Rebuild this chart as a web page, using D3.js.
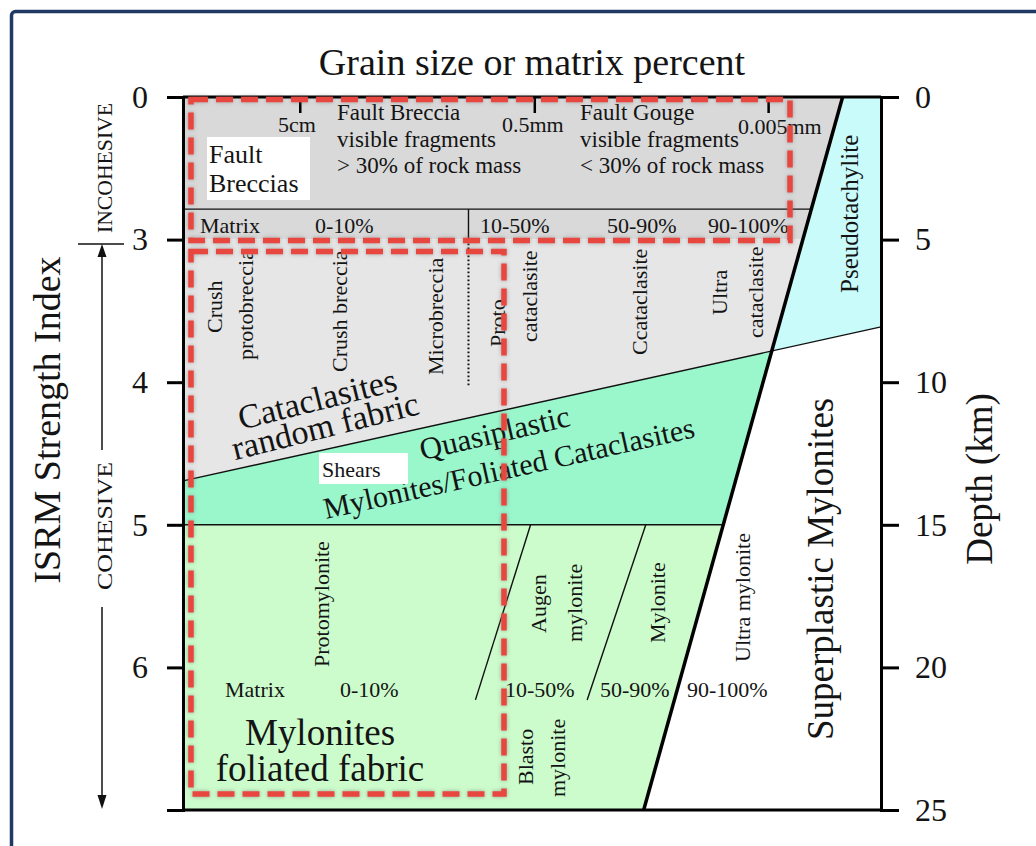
<!DOCTYPE html>
<html>
<head>
<meta charset="utf-8">
<script src="https://d3js.org/d3.v7.min.js"></script>
<style>
    body { margin: 0; background: #fff; }
    svg text { font-family: "Times New Roman", "Liberation Serif", serif; fill: #141414; }
</style>
</head>
<body>
<div id="chart"></div>
<script>
// axes
var depthTicks = [0, 5, 10, 15, 20, 25];
var isrmTicks = [0, 3, 4, 5, 6, 7];
var isrmDepth = [[0, 0], [3, 5], [7, 25]];        // [ISRM index, depth km]

// boundaries: x = place on grain size / matrix scale (0-100), y = depth km
var faultLine = [[94.5, 0], [66.0, 25]];           // thick line
var frictionLine = [[0, 13.46], [100, 8.06]];      // base of cataclasites / pseudotachylite
var matrixRowDepth = 3.93;
var cohesiveDepth = 5;                             // ISRM 3
var myloniteDepth = 15;                            // ISRM 5
var matrixSplit = [40.9, 3.93, 5, 10.17];          // x, solid from, solid to, dotted to
var myloniteSplits = [[[49.8, 15], [41.9, 21.14]], [[66.3, 15], [57.9, 21.14]]];
var grainTicks = [16.8, 50.4, 83.9];
var grainLabels = ["5cm", "0.5mm", "0.005mm"];

// names
var matrixClasses = ["Matrix", "0-10%", "10-50%", "50-90%", "90-100%"];
var cataclasiteNames = ["Crush", "protobreccia", "Crush breccia", "Microbreccia", "Proto", "cataclasite", "Ccataclasite", "Ultra", "cataclasite"];
var myloniteNames = ["Protomylonite", "Augen", "mylonite", "Mylonite", "Ultra mylonite", "Blasto", "mylonite"];

var W = 1036, H = 846;
var svg = d3.select("#chart").append("svg").attr("width", W).attr("height", H);

var defs = svg.append("defs");
defs.append("filter").attr("id", "glow")
        .attr("x", "-10%").attr("y", "-10%").attr("width", "120%").attr("height", "120%")
        .append("feDropShadow")
        .attr("dx", 0).attr("dy", 0)
        .attr("stdDeviation", 2.2)
        .attr("flood-color", "#666")
        .attr("flood-opacity", 0.55);

// frame
svg.append("rect")
        .attr("x", 11.5).attr("y", 11.5)
        .attr("width", 1040).attr("height", 860)
        .attr("rx", 4)
        .attr("fill", "#fff")
        .attr("stroke", "#1f3864")
        .attr("stroke-width", 3.5);

var x = d3.scaleLinear().domain([0, 100]).range([183, 881]);
var y = d3.scaleLinear().domain([0, 25]).range([97, 810]);
var yIsrm = d3.scaleLinear()
        .domain(isrmDepth.map(function (d) { return d[0]; }))
        .range(isrmDepth.map(function (d) { return y(d[1]); }));

function along(line, depth) {
    var t = (depth - line[0][1]) / (line[1][1] - line[0][1]);
    return line[0][0] + t * (line[1][0] - line[0][0]);
}
function frictionAt(v) {
    var t = (v - frictionLine[0][0]) / (frictionLine[1][0] - frictionLine[0][0]);
    return frictionLine[0][1] + t * (frictionLine[1][1] - frictionLine[0][1]);
}
// where the thick line meets the friction line
var pd = 0;
for (var i = 0; i < 60; i++) {
    pd = frictionAt(along(faultLine, pd));
}
var P = [along(faultLine, pd), pd];
var F0 = faultLine[0], F1 = faultLine[1];
var F5 = [along(faultLine, cohesiveDepth), cohesiveDepth];
var F15 = [along(faultLine, myloniteDepth), myloniteDepth];

var regions = [
    {pts: [[0, 0], F0, F5, [0, cohesiveDepth]], fill: "#d9d9d9"},
    {pts: [[0, cohesiveDepth], F5, P, frictionLine[0]], fill: "#e6e6e6"},
    {pts: [F0, [100, 0], frictionLine[1], P], fill: "#c9fbfb"},
    {pts: [frictionLine[0], P, F15, [0, myloniteDepth]], fill: "#9af7cc"},
    {pts: [[0, myloniteDepth], F15, F1, [0, 25]], fill: "#ccfccc"}
];

var line = d3.line()
        .x(function (d) { return x(d[0]); })
        .y(function (d) { return y(d[1]); });

var g = svg.append("g");
g.selectAll("path.region")
        .data(regions)
        .enter()
        .append("path")
        .attr("class", "region")
        .attr("d", function (d) { return line(d.pts) + "Z"; })
        .attr("fill", function (d) { return d.fill; });

var thin = [
    [[0, matrixRowDepth], [along(faultLine, matrixRowDepth), matrixRowDepth]],
    frictionLine,
    [[0, myloniteDepth], F15],
    [[matrixSplit[0], matrixSplit[1]], [matrixSplit[0], matrixSplit[2]]],
    myloniteSplits[0],
    myloniteSplits[1]
];
g.selectAll("path.thin")
        .data(thin)
        .enter()
        .append("path")
        .attr("class", "thin")
        .attr("d", line)
        .attr("fill", "none")
        .attr("stroke", "#111")
        .attr("stroke-width", 1.4);

g.append("path")
        .datum([[matrixSplit[0], matrixSplit[2]], [matrixSplit[0], matrixSplit[3]]])
        .attr("d", line)
        .attr("stroke", "#111")
        .attr("stroke-width", 2)
        .attr("stroke-dasharray", "1.6 2.4");

g.append("path")
        .datum(faultLine)
        .attr("d", line)
        .attr("stroke", "#000")
        .attr("stroke-width", 3.5);

// grain size ticks along the top
g.selectAll("line.grain")
        .data(grainTicks)
        .enter()
        .append("line")
        .attr("x1", function (d) { return x(d); })
        .attr("x2", function (d) { return x(d); })
        .attr("y1", y(0))
        .attr("y2", y(0) + 16)
        .attr("stroke", "#000")
        .attr("stroke-width", 2.5);

// box
g.append("line").attr("x1", x(0)).attr("x2", x(100)).attr("y1", y(0)).attr("y2", y(0))
        .attr("stroke", "#000").attr("stroke-width", 3);
g.append("line").attr("x1", x(0)).attr("x2", x(100)).attr("y1", y(25)).attr("y2", y(25))
        .attr("stroke", "#000").attr("stroke-width", 3);

var left = svg.append("g")
        .attr("transform", "translate(" + x(0) + ",0)")
        .call(d3.axisLeft(yIsrm).tickValues(isrmTicks).tickSize(16).tickPadding(19)
                .tickFormat(function (d) { return d === 7 ? "" : d; }));
var right = svg.append("g")
        .attr("transform", "translate(" + x(100) + ",0)")
        .call(d3.axisRight(y).tickValues(depthTicks).tickSize(18).tickPadding(16));
[left, right].forEach(function (a) {
    a.select(".domain").attr("stroke", "#000").attr("stroke-width", 3);
    a.selectAll(".tick line").attr("stroke", "#000").attr("stroke-width", 3);
    a.selectAll(".tick text")
            .attr("font-size", 32)
            .attr("font-family", "'Times New Roman', 'Liberation Serif', serif")
            .attr("fill", "#141414");
});

// text
function txt(t, px, py, size, opts) {
    opts = opts || {};
    var el = svg.append("text")
            .attr("font-size", size)
            .attr("text-anchor", opts.anchor || "start")
            .text(t);
    if (opts.rot !== undefined) {
        el.attr("transform", "translate(" + px + "," + py + ") rotate(" + opts.rot + ")");
    } else {
        el.attr("x", px).attr("y", py);
    }
    if (opts.len) {
        el.attr("textLength", opts.len).attr("lengthAdjust", "spacingAndGlyphs");
    }
    return el;
}

txt("Grain size or matrix percent", 532, 75, 38, {anchor: "middle"});
txt("ISRM Strength Index", 60, 420, 38, {anchor: "middle", rot: -90});
txt("Depth (km)", 992, 479, 37, {anchor: "middle", rot: -90});

// cohesion marker
txt("INCOHESIVE", 112, 233, 22, {rot: -90, len: 130});
txt("COHESIVE", 112, 526, 22, {anchor: "middle", rot: -90, len: 128});
svg.append("line").attr("x1", 78).attr("x2", 124).attr("y1", 244).attr("y2", 244)
        .attr("stroke", "#111").attr("stroke-width", 1.5);
svg.append("line").attr("x1", 102).attr("x2", 102).attr("y1", 252).attr("y2", 450)
        .attr("stroke", "#111").attr("stroke-width", 1.5);
svg.append("line").attr("x1", 102).attr("x2", 102).attr("y1", 607).attr("y2", 798)
        .attr("stroke", "#111").attr("stroke-width", 1.5);
svg.append("path").attr("d", "M102,244 L97.5,257 L106.5,257 Z").attr("fill", "#111");
svg.append("path").attr("d", "M102,809 L97.5,795 L106.5,795 Z").attr("fill", "#111");

// incohesive band
txt(grainLabels[0], 278, 132, 22);
txt(grainLabels[1], 502, 132, 22);
txt(grainLabels[2], 738, 134, 22);
txt("Fault Breccia", 337, 120, 23);
txt("visible fragments", 337, 147, 23);
txt("> 30% of rock mass", 337, 173, 23);
txt("Fault Gouge", 580, 120, 23);
txt("visible fragments", 580, 147, 23);
txt("< 30% of rock mass", 580, 173, 23);
svg.append("rect").attr("x", 207).attr("y", 137).attr("width", 103).attr("height", 63).attr("fill", "#fff");
txt("Fault", 209, 163, 26);
txt("Breccias", 209, 192, 26);

var upperRowX = [200, 315, 480, 607, 708];
var lowerRowX = [225, 340, 505, 600, 687];
matrixClasses.forEach(function (c, i) {
    txt(c, upperRowX[i], 233, 22);
    txt(c, lowerRowX[i], 697, 22);
});

// rock names, read bottom to top
var catPos = [[222, 333], [253, 360], [347, 372], [443, 375], [505, 347], [537, 342], [647, 355], [727, 315], [763, 338]];
cataclasiteNames.forEach(function (n, i) {
    txt(n, catPos[i][0], catPos[i][1], 22, {rot: -90});
});
var myPos = [[329, 667], [546, 633], [582, 642], [665, 643], [750, 662], [533, 785], [565, 797]];
myloniteNames.forEach(function (n, i) {
    txt(n, myPos[i][0], myPos[i][1], 22, {rot: -90});
});
txt("Pseudotachylite", 858, 293, 25, {rot: -90});
txt("Superplastic Mylonites", 833, 740, 37, {rot: -90});

txt("Cataclasites", 320, 410, 34, {anchor: "middle", rot: -14});
txt("random fabric", 328, 437, 34, {anchor: "middle", rot: -14});
txt("Quasiplastic", 497, 443, 31, {anchor: "middle", rot: -13});
txt("Mylonites/Foliated Cataclasites", 511, 478, 30, {anchor: "middle", rot: -12.5});
svg.append("rect").attr("x", 319).attr("y", 453).attr("width", 89).attr("height", 31).attr("fill", "#fff");
txt("Shears", 322, 477, 22);
txt("Mylonites", 320, 745, 37, {anchor: "middle"});
txt("foliated fabric", 320, 781, 37, {anchor: "middle"});

// highlighted groups
var highlights = [[191, 99.5, 790, 240.5], [191, 251.5, 504, 794]];
svg.selectAll("rect.hl")
        .data(highlights)
        .enter()
        .append("rect")
        .attr("class", "hl")
        .attr("x", function (d) { return d[0]; })
        .attr("y", function (d) { return d[1]; })
        .attr("width", function (d) { return d[2] - d[0]; })
        .attr("height", function (d) { return d[3] - d[1]; })
        .attr("fill", "none")
        .attr("stroke", "#e8463f")
        .attr("stroke-width", 5.5)
        .attr("stroke-dasharray", "17 8")
        .attr("filter", "url(#glow)");
</script>
</body>
</html>
